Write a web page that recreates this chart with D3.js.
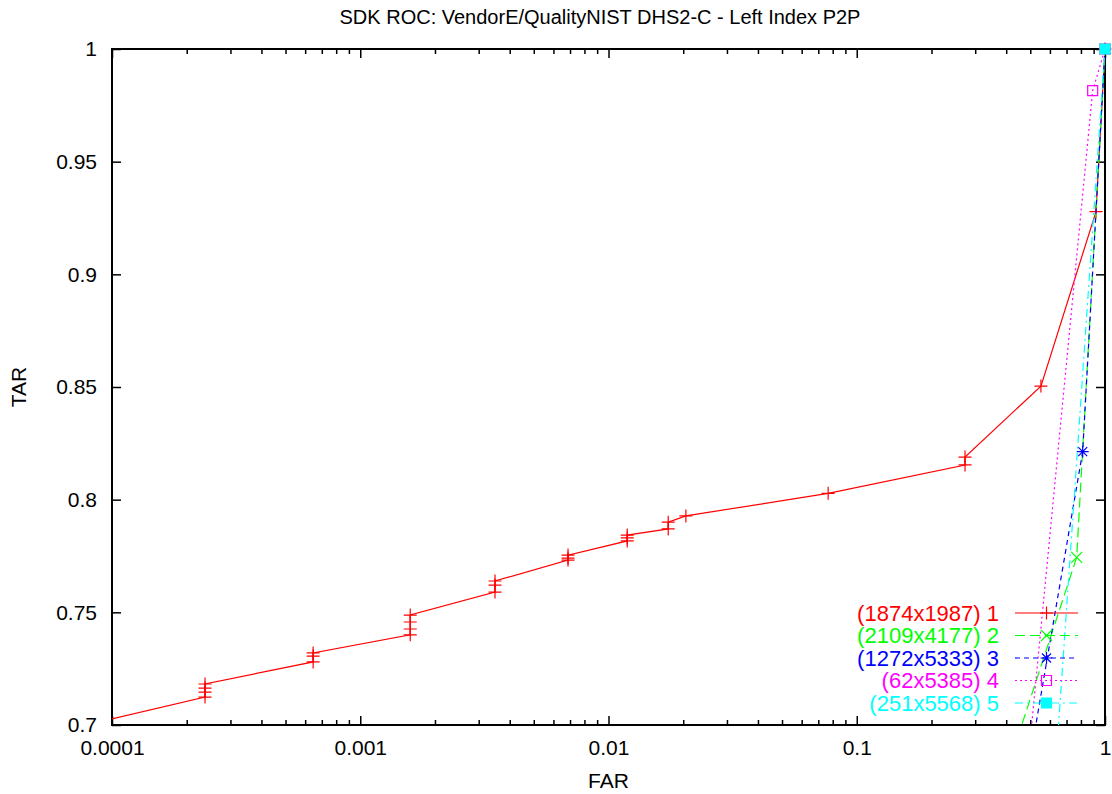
<!DOCTYPE html>
<html>
<head>
<meta charset="utf-8">
<script src="https://cdn.jsdelivr.net/npm/d3@7"></script>
<style>
  body { margin: 0; background: #fff; }
  svg text { font-family: "Liberation Sans", Arial, Helvetica, sans-serif; }
</style>
</head>
<body>
<div id="chart"></div>
<script>
(function(d3) {
'use strict';

// series: [FAR, TAR]
var series1 = [
  [0.00005, 0.695],
  [0.000237, 0.7124], [0.000237, 0.7146], [0.000237, 0.7164], [0.000237, 0.7182],
  [0.000646, 0.728], [0.000646, 0.7306], [0.000646, 0.732],
  [0.00159, 0.740], [0.00159, 0.7426], [0.00159, 0.7457], [0.00159, 0.7488],
  [0.00349, 0.759], [0.00349, 0.7621], [0.00349, 0.7639],
  [0.00687, 0.7732], [0.00687, 0.7741], [0.00687, 0.7754],
  [0.0119, 0.7817], [0.0119, 0.783], [0.0119, 0.7843],
  [0.0174, 0.787], [0.0174, 0.790],
  [0.0205, 0.7928],
  [0.0767, 0.8028],
  [0.273, 0.8154], [0.273, 0.8189],
  [0.552, 0.8504],
  [0.92, 0.9278],
  [1, 1]
];
var series2 = [[0.328, 0.65], [0.769, 0.7744], [1, 1]];
var series3 = [[0.44, 0.65], [0.813, 0.8213], [1, 1]];
var series4 = [[0.458, 0.65], [0.892, 0.9815], [1, 1]];
var series5 = [[0.605, 0.65], [1, 1]];

var seriesNames = ['(1874x1987) 1', '(2109x4177) 2', '(1272x5333) 3', '(62x5385) 4', '(251x5568) 5'];
var seriesColors = ['#ff0000', '#00ff00', '#0000ff', '#ff00ff', '#00ffff'];
var seriesDash = ['none', '10,5', '5,4', '2,3', '8,4,2,4'];
var seriesMarks = ['plus', 'cross', 'star', 'box', 'boxfill'];

var xTicks = [0.0001, 0.001, 0.01, 0.1, 1];
var xTickLabels = ['0.0001', '0.001', '0.01', '0.1', '1'];
var yTicks = [0.7, 0.75, 0.8, 0.85, 0.9, 0.95, 1];
var yTickLabels = ['0.7', '0.75', '0.8', '0.85', '0.9', '0.95', '1'];

var title = 'SDK ROC: VendorE/QualityNIST DHS2-C - Left Index P2P';

var margin = {left: 112, right: 7, top: 49, bottom: 69};
var width = 1112 - margin.left - margin.right;
var height = 794 - margin.top - margin.bottom;

var x = d3.scaleLog()
	.domain([0.0001, 1])
	.range([0, width]);

var y = d3.scaleLinear()
	.domain([0.7, 1])
	.range([height, 0]);

var minorTicks = [];
xTicks.slice(0, -1).forEach(function(t) {
	for (var k = 2; k < 10; k++) minorTicks.push(t * k);
});

var svg = d3.select('#chart')
	.append('svg')
	.attr('width', 1112)
	.attr('height', 794);

var g = svg.append('g')
	.attr('transform', 'translate(' + margin.left + ',' + margin.top + ')');

svg.append('text')
	.attr('x', 600)
	.attr('y', 24)
	.attr('text-anchor', 'middle')
	.attr('font-size', 20)
	.text(title);

svg.append('text')
	.attr('x', margin.left + width / 2)
	.attr('y', 788)
	.attr('text-anchor', 'middle')
	.attr('font-size', 21)
	.text('FAR');

svg.append('text')
	.attr('transform', 'translate(26,' + (margin.top + height / 2) + ') rotate(-90)')
	.attr('text-anchor', 'middle')
	.attr('font-size', 21)
	.text('TAR');

// axes (ticks point inward, mirrored on top/right)
function styleAxis(sel) {
	sel.selectAll('.domain').remove();
	sel.selectAll('line').attr('stroke', '#000').attr('stroke-width', 1.5);
	sel.selectAll('text').attr('font-size', 21).attr('fill', '#000')
		.style('font-family', '"Liberation Sans", Arial, Helvetica, sans-serif');
}

g.append('g')
	.attr('transform', 'translate(0,' + height + ')')
	.call(d3.axisBottom(x).tickValues(xTicks).tickSize(-9).tickPadding(15)
		.tickFormat(function(d, i) { return xTickLabels[i]; }))
	.call(styleAxis);
g.append('g')
	.attr('transform', 'translate(0,' + height + ')')
	.call(d3.axisBottom(x).tickValues(minorTicks).tickSize(-5).tickFormat(''))
	.call(styleAxis);
g.append('g')
	.call(d3.axisTop(x).tickValues(xTicks).tickSize(-9).tickFormat(''))
	.call(styleAxis);
g.append('g')
	.call(d3.axisTop(x).tickValues(minorTicks).tickSize(-5).tickFormat(''))
	.call(styleAxis);
g.append('g')
	.call(d3.axisLeft(y).tickValues(yTicks).tickSize(-9).tickPadding(15)
		.tickFormat(function(d, i) { return yTickLabels[i]; }))
	.call(styleAxis);
g.append('g')
	.attr('transform', 'translate(' + width + ',0)')
	.call(d3.axisRight(y).tickValues(yTicks).tickSize(-9).tickFormat(''))
	.call(styleAxis);

g.append('rect')
	.attr('width', width)
	.attr('height', height)
	.attr('fill', 'none')
	.attr('stroke', '#000')
	.attr('stroke-width', 2);

g.append('clipPath')
	.attr('id', 'clip')
	.append('rect')
	.attr('width', width)
	.attr('height', height);

var markPaths = {
	plus: 'M-6.5,0H6.5M0,-6.5V6.5',
	cross: 'M-5.5,-5.5L5.5,5.5M-5.5,5.5L5.5,-5.5',
	star: 'M-6,0H6M0,-6V6M-4.5,-4.5L4.5,4.5M-4.5,4.5L4.5,-4.5',
	box: 'M-5,-5H5V5H-5Z',
	boxfill: 'M-5,-5H5V5H-5Z'
};

function drawMark(sel, i) {
	sel.attr('d', markPaths[seriesMarks[i]])
		.attr('fill', seriesMarks[i] === 'boxfill' ? seriesColors[i] : 'none')
		.attr('stroke', seriesColors[i])
		.attr('stroke-width', 1.2);
}

var line = d3.line()
	.x(function(d) { return x(d[0]); })
	.y(function(d) { return y(d[1]); });

var allSeries = [series1, series2, series3, series4, series5];

allSeries.forEach(function(data, i) {
	g.append('path')
		.datum(data)
		.attr('clip-path', 'url(#clip)')
		.attr('d', line)
		.attr('fill', 'none')
		.attr('stroke', seriesColors[i])
		.attr('stroke-width', 1.2)
		.attr('stroke-dasharray', seriesDash[i]);

	g.selectAll('.mark' + i)
		.data(data.filter(function(d) { return d[0] >= 0.0001 && d[1] >= 0.7; }))
		.enter().append('path')
		.attr('class', 'mark' + i)
		.attr('transform', function(d) { return 'translate(' + x(d[0]) + ',' + y(d[1]) + ')'; })
		.call(drawMark, i);
});

// key
var key = svg.append('g');
seriesNames.forEach(function(name, i) {
	var ky = 613 + i * 22.5;
	key.append('text')
		.attr('x', 999)
		.attr('y', ky + 7.5)
		.attr('text-anchor', 'end')
		.attr('font-size', 22)
		.attr('fill', seriesColors[i])
		.text(name);
	key.append('line')
		.attr('x1', 1015)
		.attr('x2', 1078)
		.attr('y1', ky)
		.attr('y2', ky)
		.attr('stroke', seriesColors[i])
		.attr('stroke-width', 1.2)
		.attr('stroke-dasharray', seriesDash[i]);
	key.append('path')
		.attr('transform', 'translate(1046.5,' + ky + ')')
		.call(drawMark, i);
});

})(window.d3);
</script>
</body>
</html>
